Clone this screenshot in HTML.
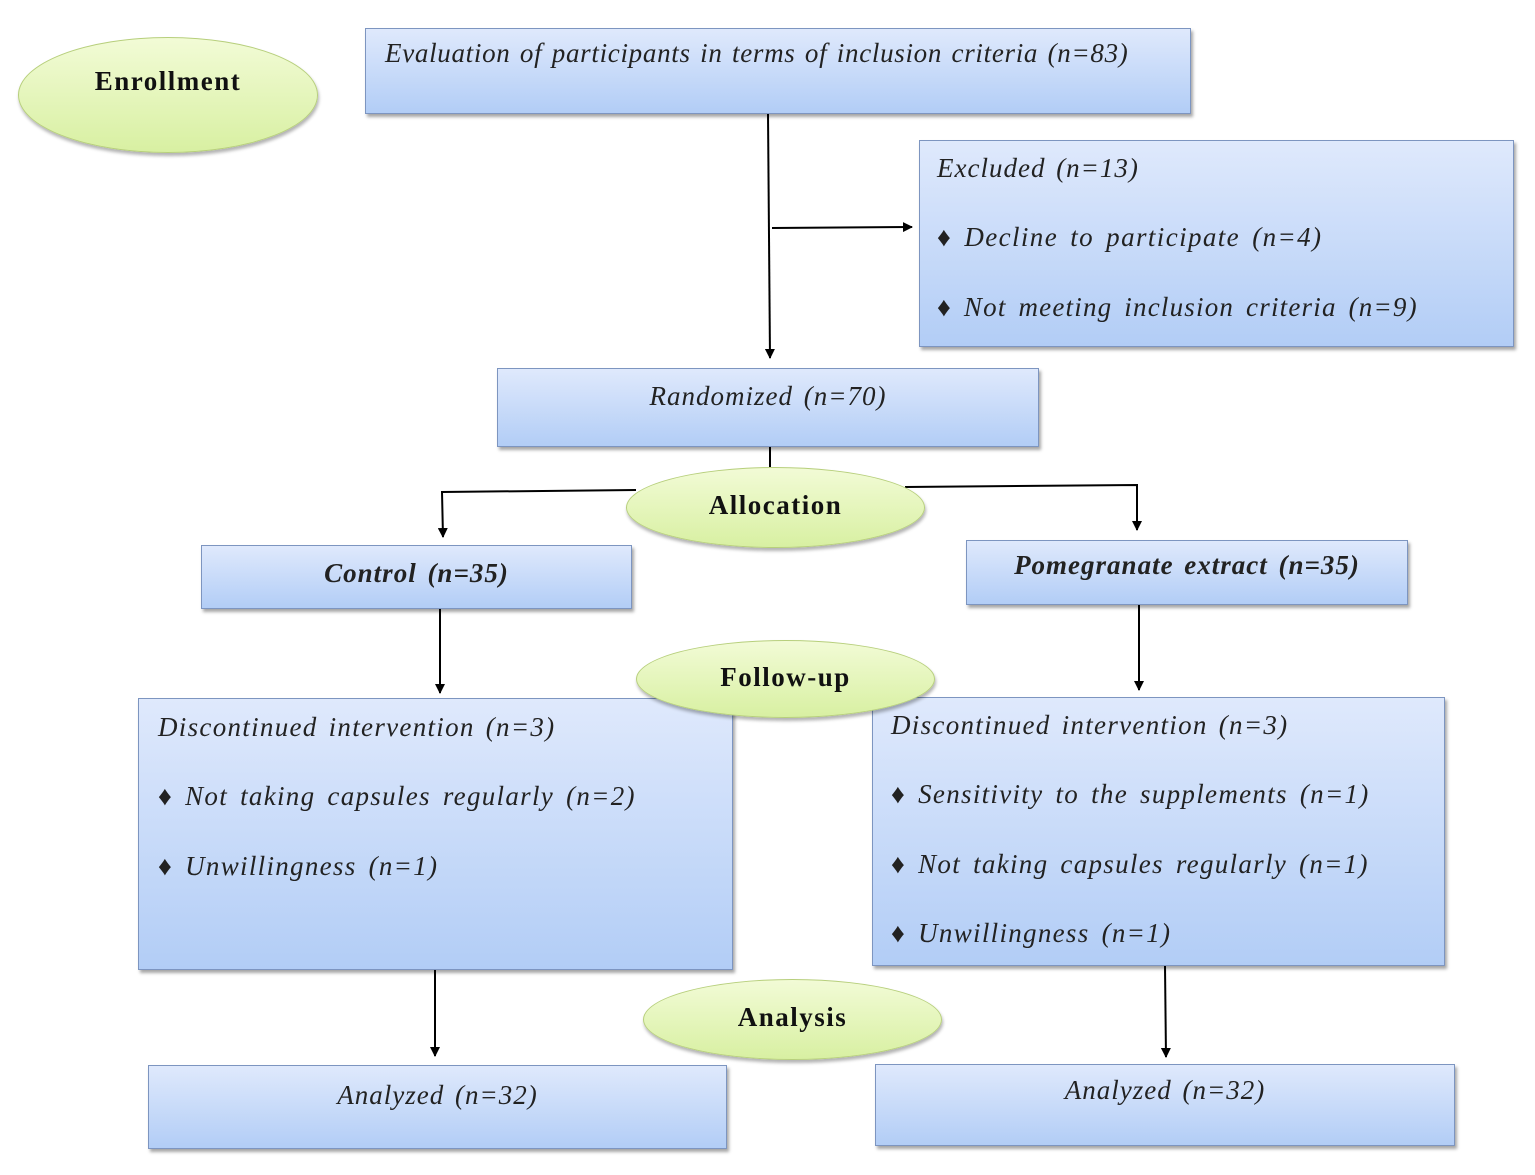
<!DOCTYPE html>
<html><head><meta charset="utf-8"><style>
body{margin:0;width:1535px;height:1175px;background:#fff;position:relative;overflow:hidden;font-family:"Liberation Serif",serif;}
.b{position:absolute;box-sizing:border-box;border:1.5px solid #7d95c0;background:linear-gradient(#dfe9fc,#b2cdf6);box-shadow:2px 3px 3px rgba(0,0,0,.35);}
.t{position:absolute;font-style:italic;font-size:27px;color:#222;white-space:nowrap;line-height:1;letter-spacing:1px;word-spacing:3px;}
.e{position:absolute;box-sizing:border-box;border-radius:50%;border:1.5px solid #b7cf7c;background:linear-gradient(#f2fbd6,#d8f0a2);box-shadow:1px 3px 3px rgba(0,0,0,.3);display:flex;align-items:center;justify-content:center;font-weight:bold;font-size:27px;color:#111;letter-spacing:1.5px;}
svg{position:absolute;left:0;top:0;}
</style></head><body>
<svg width="1535" height="1175">
<defs><marker id="a" markerWidth="10" markerHeight="10" refX="9" refY="5" orient="auto" markerUnits="userSpaceOnUse"><path d="M0,0 L10,5 L0,10 z" fill="#000"/></marker></defs>
<g stroke="#000" stroke-width="2" fill="none">
<line x1="768" y1="114" x2="770" y2="358" marker-end="url(#a)"/>
<line x1="772" y1="228" x2="912" y2="227" marker-end="url(#a)"/>
<line x1="770" y1="447" x2="770" y2="467"/>
<polyline points="636,490 442,492 443,537" marker-end="url(#a)"/>
<polyline points="905,487 1137,485 1137,530" marker-end="url(#a)"/>
<line x1="440" y1="609" x2="440" y2="693" marker-end="url(#a)"/>
<line x1="1139" y1="605" x2="1139" y2="690" marker-end="url(#a)"/>
<line x1="435" y1="970" x2="435" y2="1056" marker-end="url(#a)"/>
<line x1="1165" y1="966" x2="1166" y2="1057" marker-end="url(#a)"/>
</g></svg>

<div class="b" style="left:365px;top:28px;width:826px;height:86px"></div>
<div class="t" style="left:385px;top:40px;letter-spacing:0.7px;word-spacing:2px">Evaluation of participants in terms of inclusion criteria (n=83)</div>

<div class="b" style="left:919px;top:140px;width:595px;height:207px"></div>
<div class="t" style="left:937px;top:155px">Excluded (n=13)</div>
<div class="t" style="left:937px;top:224px;letter-spacing:1.4px;word-spacing:4px">♦ Decline to participate (n=4)</div>
<div class="t" style="left:937px;top:294px;letter-spacing:1.2px;word-spacing:4px">♦ Not meeting inclusion criteria (n=9)</div>

<div class="b" style="left:497px;top:368px;width:542px;height:79px"></div>
<div class="t" style="left:497px;width:542px;text-align:center;top:383px">Randomized (n=70)</div>

<div class="b" style="left:201px;top:545px;width:431px;height:64px"></div>
<div class="t" style="left:201px;width:431px;text-align:center;top:560px;font-weight:bold">Control (n=35)</div>

<div class="b" style="left:966px;top:540px;width:442px;height:65px"></div>
<div class="t" style="left:966px;width:442px;text-align:center;top:552px;font-weight:bold">Pomegranate extract (n=35)</div>

<div class="b" style="left:138px;top:698px;width:595px;height:272px"></div>
<div class="t" style="left:158px;top:714px;letter-spacing:1.3px">Discontinued intervention (n=3)</div>
<div class="t" style="left:158px;top:783px;letter-spacing:1.3px;word-spacing:4px">♦ Not taking capsules regularly (n=2)</div>
<div class="t" style="left:158px;top:853px;letter-spacing:1.3px;word-spacing:4px">♦ Unwillingness (n=1)</div>

<div class="b" style="left:872px;top:697px;width:573px;height:269px"></div>
<div class="t" style="left:891px;top:712px;letter-spacing:1.3px">Discontinued intervention (n=3)</div>
<div class="t" style="left:891px;top:781px;letter-spacing:1.3px;word-spacing:4px">♦ Sensitivity to the supplements (n=1)</div>
<div class="t" style="left:891px;top:851px;letter-spacing:1.3px;word-spacing:4px">♦ Not taking capsules regularly (n=1)</div>
<div class="t" style="left:891px;top:920px;letter-spacing:1.3px;word-spacing:4px">♦ Unwillingness (n=1)</div>

<div class="b" style="left:148px;top:1065px;width:579px;height:84px"></div>
<div class="t" style="left:148px;width:579px;text-align:center;top:1082px">Analyzed (n=32)</div>
<div class="b" style="left:875px;top:1064px;width:580px;height:82px"></div>
<div class="t" style="left:875px;width:580px;text-align:center;top:1077px">Analyzed (n=32)</div>

<div class="e" style="left:18px;top:37px;width:300px;height:116px;padding-bottom:28px">Enrollment</div>
<div class="e" style="left:626px;top:467px;width:299px;height:81px;padding-bottom:4px">Allocation</div>
<div class="e" style="left:636px;top:640px;width:299px;height:78px;padding-bottom:4px">Follow-up</div>
<div class="e" style="left:643px;top:979px;width:299px;height:81px;padding-bottom:4px">Analysis</div>
</body></html>
